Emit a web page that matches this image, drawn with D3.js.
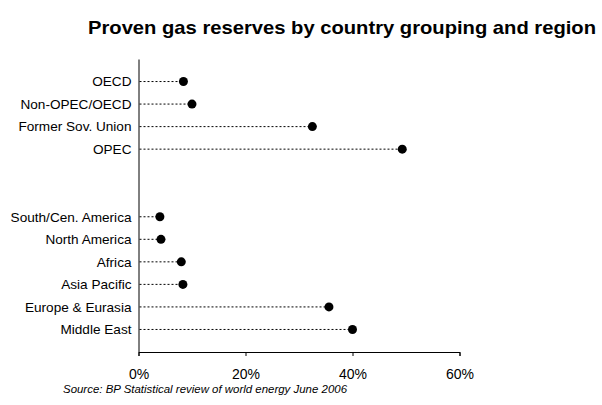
<!DOCTYPE html>
<meta charset="utf-8">
<style>
body { margin: 0; background: #fff; }
text { font-family: Arial, "Liberation Sans", sans-serif; fill: #000; }
.axis path, .axis line { stroke: #000; stroke-width: 1; }
</style>
<body>
<script src="https://d3js.org/d3.v7.min.js"></script>
<script>

// share of world proven gas reserves, %
const groupings = ['OECD', 'Non-OPEC/OECD', 'Former Sov. Union', 'OPEC']
const groupShares = [8.4, 10.0, 32.5, 49.3]
const regions = ['South/Cen. America', 'North America', 'Africa', 'Asia Pacific', 'Europe & Eurasia', 'Middle East']
const regionShares = [4.0, 4.2, 8.0, 8.3, 35.6, 40.0]
const gaps = ['gap1', 'gap2']
const xTicks = [0, 20, 40, 60]

const width = 602,
    height = 405

var svg = d3.select('body')
    .append('svg')
    .attr('width', width)
    .attr('height', height)

var rows = groupings.map(function (d, i) { return { name: d, value: groupShares[i] } })
    .concat(regions.map(function (d, i) { return { name: d, value: regionShares[i] } }))

var x = d3.scaleLinear()
    .domain([0, 60])
    .range([138.5, 459.5])

var y = d3.scalePoint()
    .domain(groupings.concat(gaps, regions))
    .range([59, 352])
    .padding(1)

svg.append('text')
    .attr('x', 88)
    .attr('y', 34)
    .attr('textLength', 508)
    .attr('lengthAdjust', 'spacingAndGlyphs')
    .style('font-size', '18.5px')
    .style('font-weight', 'bold')
    .text('Proven gas reserves by country grouping and region')

svg.append('g')
    .attr('class', 'axis')
    .attr('transform', 'translate(0,352)')
    .call(d3.axisBottom(x).tickValues(xTicks).tickSize(4).tickSizeOuter(4).tickPadding(13)
        .tickFormat(function (d) { return d + '%' }))
    .call(function (g) { g.selectAll('text').style('font-size', '14px') })

svg.append('g')
    .attr('class', 'axis')
    .attr('transform', 'translate(138.5,0)')
    .call(d3.axisLeft(y).tickSize(0).tickSizeOuter(0).tickPadding(7)
        .tickFormat(function (d) { return gaps.includes(d) ? '' : d }))
    .call(function (g) { g.selectAll('text').style('font-size', '13.6px') })

svg.selectAll('.leader')
    .data(rows)
    .enter().append('line')
    .attr('class', 'leader')
    .attr('x1', x(0) + 1)
    .attr('x2', function (d) { return x(d.value) })
    .attr('y1', function (d) { return y(d.name) })
    .attr('y2', function (d) { return y(d.name) })
    .style('stroke', '#000')
    .style('stroke-dasharray', '2,2')

svg.selectAll('.dot')
    .data(rows)
    .enter().append('circle')
    .attr('class', 'dot')
    .attr('cx', function (d) { return x(d.value) })
    .attr('cy', function (d) { return y(d.name) })
    .attr('r', 4.5)
    .style('fill', '#000')

svg.append('text')
    .attr('x', 63)
    .attr('y', 393)
    .attr('textLength', 284)
    .attr('lengthAdjust', 'spacingAndGlyphs')
    .style('font-size', '10.5px')
    .style('font-style', 'italic')
    .text('Source: BP Statistical review of world energy June 2006')

</script>
</body>
